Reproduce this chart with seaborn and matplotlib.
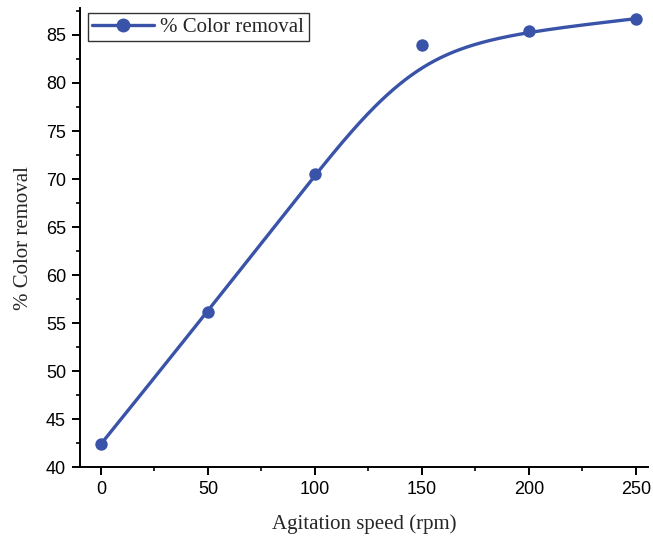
import numpy as np
import pandas as pd
import seaborn as sns
import matplotlib
matplotlib.use("Agg")
import matplotlib.pyplot as plt
from matplotlib.ticker import MultipleLocator

# Agitation speed study
speed = [0, 50, 100, 150, 200, 250]
removal = [42.4, 56.2, 70.5, 84.0, 85.4, 86.7]

df = pd.DataFrame({"speed": speed, "removal": removal})


def bspline(ctrl_x, ctrl_y, degree=3, n=400):
    """Clamped uniform B-spline using the data points as control points."""
    P = np.column_stack([ctrl_x, ctrl_y]).astype(float)
    m = len(P)
    inner = np.arange(1, m - degree)
    knots = np.concatenate([np.zeros(degree + 1), inner, np.full(degree + 1, m - degree)])
    t = np.linspace(0, m - degree, n)
    t[-1] -= 1e-9

    def basis(i, k, tt):
        if k == 0:
            return ((knots[i] <= tt) & (tt < knots[i + 1])).astype(float)
        out = np.zeros_like(tt)
        d1 = knots[i + k] - knots[i]
        d2 = knots[i + k + 1] - knots[i + 1]
        if d1 > 0:
            out += (tt - knots[i]) / d1 * basis(i, k - 1, tt)
        if d2 > 0:
            out += (knots[i + k + 1] - tt) / d2 * basis(i + 1, k - 1, tt)
        return out

    B = np.column_stack([basis(i, degree, t) for i in range(m)])
    C = B @ P
    return C[:, 0], C[:, 1]


sx, sy = bspline(df["speed"], df["removal"])
curve = pd.DataFrame({"speed": sx, "removal": sy})

sns.set_theme(style="ticks")
plt.rcParams["font.family"] = ["Liberation Sans", "DejaVu Sans"]

color = "#3953a8"
fig = plt.figure(figsize=(6.53, 5.40), dpi=100)
ax = fig.add_axes([0.1225, 0.135, 0.8695, 0.85])

sns.lineplot(data=curve, x="speed", y="removal", ax=ax, color=color, lw=2.4,
             sort=False, estimator=None, legend=False)
sns.scatterplot(data=df, x="speed", y="removal", ax=ax, color=color, s=80,
                edgecolor=color, linewidth=0, legend=False, zorder=3)

ax.set_xlim(-9.8, 255.6)
ax.set_ylim(40, 87.8)
ax.xaxis.set_major_locator(MultipleLocator(50))
ax.xaxis.set_minor_locator(MultipleLocator(25))
ax.yaxis.set_major_locator(MultipleLocator(5))
ax.yaxis.set_minor_locator(MultipleLocator(2.5))
ax.tick_params(which="major", direction="out", length=6, width=1.4, labelsize=13,
               colors="black", pad=4)
ax.tick_params(which="minor", direction="out", length=3, width=1.4)

for side in ["top", "right"]:
    ax.spines[side].set_visible(False)
for side in ["left", "bottom"]:
    ax.spines[side].set_linewidth(1.4)
    ax.spines[side].set_color("black")

serif = ["Liberation Serif", "DejaVu Serif"]
ax.set_xlabel("Agitation speed (rpm)", fontsize=15, family=serif, labelpad=12)
ax.set_ylabel("% Color removal", fontsize=15, family=serif, labelpad=9)

handle = plt.Line2D([], [], color=color, lw=2.4, marker="o", markersize=9)
leg = ax.legend([handle], ["% Color removal"], loc="upper left",
                bbox_to_anchor=(0.006, 0.998), frameon=True, fancybox=False,
                prop={"family": serif, "size": 15}, handlelength=3.0,
                borderpad=0.2, handletextpad=0.3, borderaxespad=0.2)
leg.get_frame().set_edgecolor("black")
leg.get_frame().set_linewidth(1.0)

fig.savefig("out.png", dpi=100)
